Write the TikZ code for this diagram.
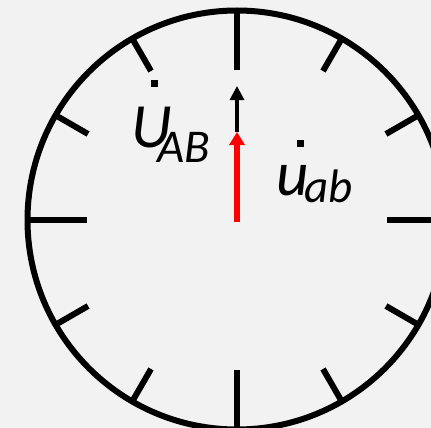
\documentclass[tikz,border=0pt]{standalone}
\usepackage{fontspec}
\setmainfont{Carlito}
\usetikzlibrary{arrows.meta,calc}
\definecolor{bg}{RGB}{242,242,242}
\tikzset{
  rim/.style={line width=6pt, black},
  longtick/.style={line width=6pt, black},
  shorttick/.style={line width=6pt, black},
  redvec/.style={line width=6pt, red, -{Triangle[width=15pt,length=13pt]}},
  blackvec/.style={line width=3.2pt, black, -{Triangle[width=14pt,length=14pt]}},
  bigtxt/.style={inner sep=0pt, anchor=base west, font=\fontsize{63}{63}\selectfont\itshape},
  subtxt/.style={inner sep=0pt, anchor=base west, font=\fontsize{47}{47}\selectfont\itshape},
  dotmark/.style={fill=black, draw=none}
}
\begin{document}
\begin{tikzpicture}[x=1pt,y=-1pt]
\useasboundingbox (0,0) rectangle (431,428);
\fill[bg] (0,0) rectangle (431,428);
\clip (0,0) rectangle (431,428);
\coordinate (C) at (237,220);
\draw[rim] (C) circle[radius=209.5];
\foreach \a in {0,90,180,270}{
  \draw[longtick] ($(C)+(\a:150)$) -- ($(C)+(\a:211)$);
}
\foreach \a in {30,60,120,150,210,240,300,330}{
  \draw[shorttick] ($(C)+(\a:172)$) -- ($(C)+(\a:211)$);
}
\coordinate (R0) at (237,222);
\coordinate (R1) at (237,132);
\coordinate (B1) at (237,86);
\draw[blackvec] (R1) -- (B1);
\draw[redvec] (R0) -- (R1);
\node[bigtxt] (U) at (131,147) {U};
\node[subtxt] (Usub) at (157,162) {AB};
\node[bigtxt] (u) at (276,195) {u};
\node[subtxt] (usub) at (304,202) {ab};
\fill[dotmark] (151.2,79.8) rectangle (158.2,86.8);
\fill[dotmark] (296.8,140.2) rectangle (303.8,147.2);
\end{tikzpicture}
\end{document}
